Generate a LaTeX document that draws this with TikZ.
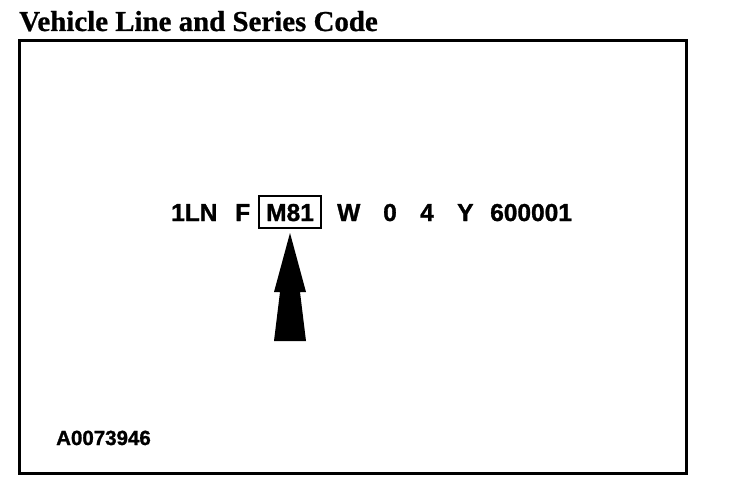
\documentclass[tikz,border=0pt]{standalone}
\usepackage{fontspec}
\setmainfont{Liberation Serif}[BoldFeatures={FakeBold=0.8}]
\newfontfamily\codefont{Liberation Sans}[BoldFeatures={FakeBold=1.2}]
\begin{document}
\begin{tikzpicture}[x=1pt,y=-1pt,
  code/.style={inner sep=0pt,anchor=base west,font=\codefont\bfseries\fontsize{24.5}{24.5}\selectfont},
  frameline/.style={line width=3pt},
  boxline/.style={line width=2.5pt}]
\useasboundingbox (0,0) rectangle (736,492);
\node[inner sep=0pt,anchor=base west,font=\bfseries\fontsize{28.9}{28.9}\selectfont] (title) at (19,31) {Vehicle Line and Series Code};
\draw[frameline] (19,41) rectangle (686,473);
\node[code] (t1) at (171,221) {1LN};
\node[code] (t2) at (235,221) {F};
\node[code] (t3) at (266,221) {M81};
\node[code] (t4) at (337,221) {W};
\node[code] (t5) at (383,221) {0};
\node[code] (t6) at (420,221) {4};
\node[code] (t7) at (457,221) {Y};
\node[code] (t8) at (490,221) {600001};
\draw[boxline] (259,196) rectangle (321,228);
\fill (290,233) -- (306,292) -- (300,292) -- (306,341) -- (274,341) -- (280,292) -- (274,292) -- cycle;
\node[inner sep=0pt,anchor=base west,font=\codefont\bfseries\fontsize{20.5}{20.5}\selectfont] (ref) at (56,445) {A0073946};
\end{tikzpicture}
\end{document}
